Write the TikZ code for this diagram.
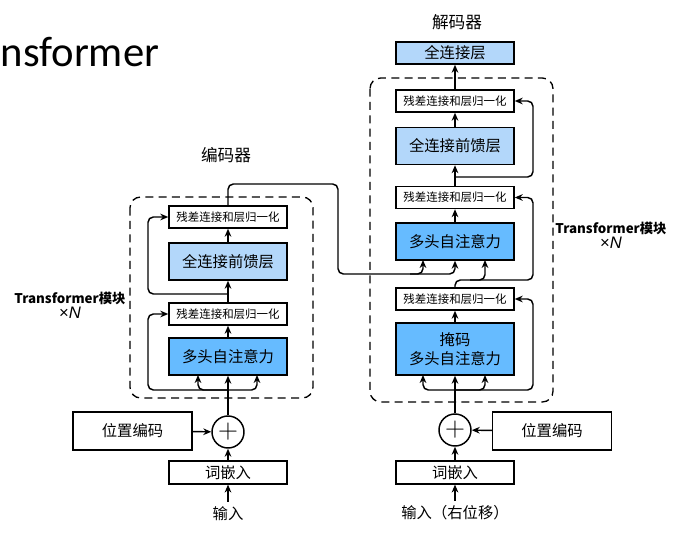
\documentclass[tikz,border=0pt]{standalone}
\usepackage{fontspec}
\setmainfont{Noto Sans CJK SC}
\newfontfamily\titlefont{Carlito}
\newfontfamily\latinsans{Liberation Sans}
\usetikzlibrary{arrows.meta,positioning}
\definecolor{attblue}{RGB}{102,187,255}
\definecolor{ffnblue}{RGB}{179,215,250}

\begin{document}
\begin{tikzpicture}[
  x=0.75pt,y=-0.75pt,
  >={Stealth[length=6pt,width=5pt]},
  line width=1.1pt,
  every node/.style={font=\fontsize{11.5}{14}\selectfont},
  blk/.style={draw,line width=1.1pt,minimum width=88.5pt,inner sep=0pt,align=center},
  addnorm/.style={blk,fill=white,minimum height=16.5pt,font=\fontsize{8.6}{10}\selectfont},
  ffn/.style={blk,fill=ffnblue,minimum height=27.75pt},
  attn/.style={blk,fill=attblue,minimum height=27.75pt},
  embbox/.style={blk,fill=white,minimum height=17pt},
  posbox/.style={blk,fill=white,minimum width=89pt,minimum height=28.5pt},
  sumnode/.style={circle,draw,line width=1.1pt,minimum size=24pt,inner sep=0pt},
  blockframe/.style={draw,dash pattern=on 6pt off 4pt,rounded corners=8pt,line width=1pt},
  hdr/.style={font=\fontsize{12.5}{14}\selectfont},
  tlbl/.style={align=center,font=\bfseries\fontsize{10}{13}\selectfont},
  skip/.style={->,rounded corners=4pt}
]
\useasboundingbox (0,0) rectangle (686,541);

% title fragment at the top left
\node[anchor=base west,inner sep=0pt,font=\titlefont\fontsize{32}{34}\selectfont] (ttl) at (0,67) {nsformer};

% ---------------- encoder ----------------
\draw[blockframe] (130,197) rectangle (313,398);
\node[hdr] (enctitle) at (226,155) {编码器};
\node[addnorm] (encadd2) at (228,217) {残差连接和层归一化};
\node[ffn] (encffn) at (228,261.5) {全连接前馈层};
\node[addnorm] (encadd1) at (228,314) {残差连接和层归一化};
\node[attn] (encatt) at (228,356.5) {多头自注意力};
\node[sumnode] (encsum) at (228,432) {\fontsize{22}{22}\selectfont$+$};
\node[posbox] (encpos) at (132.5,431) {位置编码};
\node[embbox] (encemb) at (228,472.5) {词嵌入};
\node (encin) at (228,514) {输入};
\node[tlbl] (enclbl) at (70,305) {Transformer模块\\[-2pt]{\latinsans\mdseries\fontsize{12.5}{13}\selectfont ×\itshape N}};

\draw[->] (encin) -- (encemb);
\draw[->] (encemb) -- (encsum);
\draw[->] (encpos) -- (encsum);
\draw[->] (encsum) -- (encatt);
\coordinate (encsplit) at (228,390);
\draw[skip] (encsplit) -- (198,390) -- (198,375);
\draw[skip] (encsplit) -- (257,390) -- (257,375);
\draw[skip] (encsplit) -- (148,390) -- (148,314) -- (encadd1.west);
\draw[->] (encatt) -- (encadd1);
\draw[->] (encadd1) -- (encffn);
\coordinate (encmid) at (228,294);
\draw[skip] (encmid) -- (148,294) -- (148,217) -- (encadd2.west);
\draw[->] (encffn) -- (encadd2);

% ---------------- decoder ----------------
\draw[blockframe] (370,78) rectangle (553,402);
\node[hdr] (dectitle) at (457,22) {解码器};
\node[blk,fill=ffnblue,minimum height=16.5pt] (decout) at (455,53) {全连接层};
\node[addnorm] (decadd3) at (455,101) {残差连接和层归一化};
\node[ffn] (decffn) at (455,146) {全连接前馈层};
\node[addnorm] (decadd2) at (455,197.5) {残差连接和层归一化};
\node[attn] (decatt) at (455,241.5) {多头自注意力};
\node[addnorm] (decadd1) at (455,299) {残差连接和层归一化};
\node[attn,minimum height=39pt] (decmatt) at (455,349) {掩码\\多头自注意力};
\node[sumnode] (decsum) at (455,430) {\fontsize{22}{22}\selectfont$+$};
\node[posbox] (decpos) at (552,431) {位置编码};
\node[embbox] (decemb) at (455,472.5) {词嵌入};
\node (decin) at (455,513) {输入（右位移）};
\node[tlbl] (declbl) at (611,235) {Transformer模块\\[-2pt]{\latinsans\mdseries\fontsize{12.5}{13}\selectfont ×\itshape N}};

\draw[->] (decin) -- (decemb);
\draw[->] (decemb) -- (decsum);
\draw[->] (decpos) -- (decsum);
\draw[->] (decsum) -- (decmatt);
\coordinate (decsplit) at (455,390);
\draw[skip] (decsplit) -- (423,390) -- (423,375);
\draw[skip] (decsplit) -- (485,390) -- (485,375);
\draw[skip] (decsplit) -- (533,390) -- (533,299) -- (decadd1.east);
\draw[->] (decmatt) -- (decadd1);
% masked block output: residual + query
\draw[skip] (decadd1.north) -- (455,280) -- (533,280) -- (533,197.5) -- (decadd2.east);
\draw[skip] (470,280) -- (485,280) -- (485,260);
\draw[->] (decatt) -- (decadd2);
\draw[->] (decadd2) -- (decffn);
\coordinate (decmid) at (455,177);
\draw[skip] (decmid) -- (533,177) -- (533,101) -- (decadd3.east);
\draw[->] (decffn) -- (decadd3);
\draw[->] (decadd3) -- (decout);

% encoder output into the decoder attention
\draw[skip] (encadd2.north) -- (228,184) -- (338,184) -- (338,274) -- (455,274) -- (decatt.south);
\draw[skip] (410,274) -- (423,274) -- (423,260);
\end{tikzpicture}
\end{document}
